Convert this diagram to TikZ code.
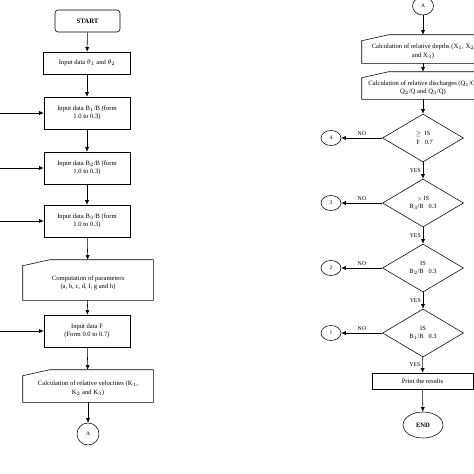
\documentclass[tikz,border=0pt]{standalone}
\usepackage{fontspec}
\setmainfont{Liberation Serif}
\usetikzlibrary{shapes.geometric,arrows.meta}

\tikzset{
  box/.style={draw, rectangle, align=center, inner sep=1pt,
    font=\fontsize{6.6}{8.5}\selectfont},
  inbox/.style={rectangle, align=center, inner sep=1pt,
    font=\fontsize{6.6}{8.5}\selectfont},
  decide/.style={draw, diamond, aspect=1.67, inner sep=0pt,
    minimum width=81pt, minimum height=48pt, align=center,
    font=\fontsize{6.4}{8.5}\selectfont},
  tag/.style={draw, ellipse, minimum width=20pt, minimum height=15pt,
    inner sep=0pt, font=\fontsize{5.5}{6}\selectfont},
  lab/.style={font=\fontsize{5.8}{7}\selectfont, inner sep=2pt},
  flow/.style={-{Latex[length=4.5pt,width=4pt]}}
}

% slanted top left corner of an input box
\newcommand{\slantedge}[1]{%
  \draw (#1.south west) -- (#1.south east) -- (#1.north east)
    -- ([xshift=27pt]#1.north west) -- ([yshift=-6pt]#1.north west) -- cycle;}

\begin{document}
\begin{tikzpicture}[x=1pt, y=-1pt, line width=0.55pt]
  \useasboundingbox (0,0) rectangle (474,474);

  % Left column
  \node[box, rounded corners=3pt, minimum width=65pt, minimum height=22pt,
    font=\fontsize{6.8}{8}\selectfont\bfseries] (start) at (87.5,21) {START};
  \node[box, minimum width=87pt, minimum height=22pt] (theta) at (87,63)
    {Input data $\theta_1$ and $\theta_2$};
  \node[box, minimum width=86pt, minimum height=32pt] (bone) at (87,113)
    {Input data B$_1$/B (form\\1.0 to 0.3)};
  \node[box, minimum width=86pt, minimum height=32pt] (btwo) at (87,168)
    {Input data B$_2$/B (form\\1.0 to 0.3)};
  \node[box, minimum width=86pt, minimum height=32pt] (bthree) at (87,221)
    {Input data B$_3$/B (form\\1.0 to 0.3)};
  \node[inbox, minimum width=130pt, minimum height=40pt] (param) at (88,280)
    {\rule{0pt}{10pt}Computation of parameters\\(a, b, c, d, f, g and h)};
  \slantedge{param}
  \node[box, minimum width=86pt, minimum height=32pt] (ff) at (87,331)
    {Input data F\\(Form 0.0 to 0.7)};
  \node[inbox, minimum width=130pt, minimum height=32pt] (velo) at (88,386)
    {\rule{0pt}{9pt}Calculation of relative velocities (K$_1$,\\K$_2$ and K$_3$)};
  \slantedge{velo}
  \node[tag, minimum width=22pt, minimum height=22pt] (aout) at (88,434) {A};

  \draw[flow] (start) -- (theta);
  \draw[flow] (theta) -- (bone);
  \draw[flow] (bone) -- (btwo);
  \draw[flow] (btwo) -- (bthree);
  \draw[flow] (bthree) -- (param);
  \draw[flow] (param) -- (ff);
  \draw[flow] (ff) -- (velo);
  \draw[flow] (velo) -- (aout);

  % loops coming back from the right column
  \coordinate (inone) at (0,113);
  \coordinate (intwo) at (0,168);
  \coordinate (inthree) at (0,221);
  \coordinate (infour) at (0,331);
  \draw[flow] (inone) -- (bone.west);
  \draw[flow] (intwo) -- (btwo.west);
  \draw[flow] (inthree) -- (bthree.west);
  \draw[flow] (infour) -- (ff.west);

  % Right column
  \node[tag, minimum width=21pt, minimum height=18pt] (ain) at (423,6) {A};
  \node[inbox, minimum width=122pt, minimum height=28pt] (depth) at (423,49)
    {\rule{0pt}{9pt}Calculation of relative depths (X$_1$, X$_2$\\and X$_3$)};
  \slantedge{depth}
  \node[inbox, minimum width=122pt, minimum height=27pt] (disch) at (423,85.5)
    {\rule{0pt}{9pt}Calculation of relative discharges (Q$_1$/Q,\\Q$_2$/Q and Q$_3$/Q)};
  \slantedge{disch}
  \node[decide] (qf) at (423,138)
    {$\geq$\ \ IS\\\ \ F\ \ \ 0.7};
  \node[decide] (qthree) at (423,203)
    {{\tiny$>$}\,IS\\B$_3$/B\ \ \ 0.3};
  \node[decide] (qtwo) at (423,268)
    {IS\\B$_2$/B\ \ \ 0.3};
  \node[decide] (qone) at (423,333)
    {IS\\B$_1$/B\ \ \ 0.3};
  \node[box, minimum width=101pt, minimum height=16pt] (print) at (422.5,381)
    {Print the results};
  \node[tag, minimum width=40pt, minimum height=26pt,
    font=\fontsize{6.6}{8}\selectfont\bfseries] (stop) at (423,425) {END};

  \node[tag] (cfour) at (331,138) {4};
  \node[tag] (cthree) at (331,203) {3};
  \node[tag] (ctwo) at (331,268) {2};
  \node[tag] (cone) at (331,333) {1};

  \draw[flow] (ain) -- (depth);
  \draw[flow] (depth) -- (disch);
  \draw[flow] (disch) -- (qf);
  \draw[flow] (qf) -- node[lab, left] {YES} (qthree);
  \draw[flow] (qthree) -- node[lab, left] {YES} (qtwo);
  \draw[flow] (qtwo) -- node[lab, left] {YES} (qone);
  \draw[flow] (qone) -- node[lab, left] {YES} (print);
  \draw[flow] (print) -- (stop);

  \draw[flow] (qf) -- node[lab, above] {NO} (cfour);
  \draw[flow] (qthree) -- node[lab, above] {NO} (cthree);
  \draw[flow] (qtwo) -- node[lab, above] {NO} (ctwo);
  \draw[flow] (qone) -- node[lab, above] {NO} (cone);
\end{tikzpicture}
\end{document}
